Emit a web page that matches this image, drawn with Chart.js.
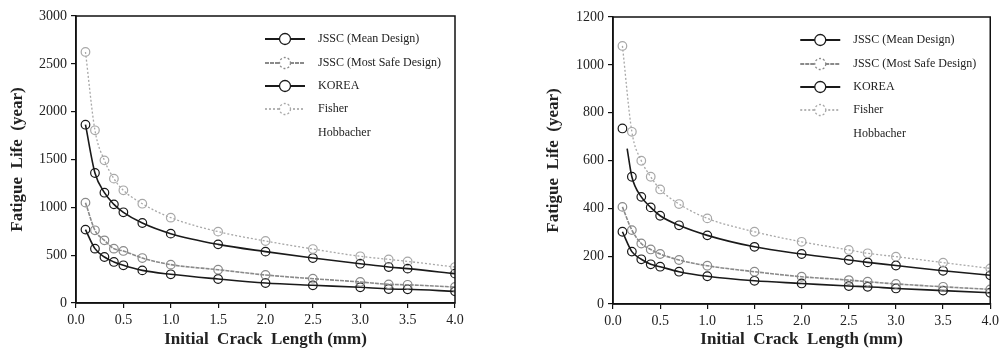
<!DOCTYPE html>
<html>
<head>
<meta charset="utf-8">
<script src="https://cdn.jsdelivr.net/npm/chart.js@4/dist/chart.umd.min.js"></script>
<style>
  html, body { margin: 0; padding: 0; background: #fff; }
  #wrapLeft { position: absolute; left: 0; top: 0; width: 500px; height: 350px; }
  #wrapRight { position: absolute; left: 500px; top: 0; width: 503px; height: 350px; }
</style>
</head>
<body>
<div id="wrapLeft"><canvas id="chartLeft" width="500" height="350"></canvas></div>
<div id="wrapRight"><canvas id="chartRight" width="503" height="350"></canvas></div>
<script>
// legend names
const seriesNames = ['JSSC (Mean Design)', 'JSSC (Most Safe Design)', 'KOREA', 'Fisher', 'Hobbacher'];
const xTicks = [0.0, 0.5, 1.0, 1.5, 2.0, 2.5, 3.0, 3.5, 4.0];

// left chart (0 - 3000 years)
const crackLeft = [0.1, 0.2, 0.3, 0.4, 0.5, 0.7, 1.0, 1.5, 2.0, 2.5, 3.0, 3.3, 3.5, 4.0];
const jsscMeanLeft = [1864, 1359, 1153, 1031, 948, 836, 725, 613, 537, 470, 411, 376, 359, 307];
const jsscSafeLeft = [1049, 760, 655, 568, 544, 470, 401, 348, 293, 254, 220, 195, 190, 167];
const koreaLeft = [767, 568, 481, 429, 394, 341, 300, 251, 209, 185, 164, 146, 143, 122];
const fisherLeft = [2624, 1805, 1491, 1300, 1178, 1038, 892, 746, 648, 564, 488, 456, 435, 376];
const yTicksLeft = [0, 500, 1000, 1500, 2000, 2500, 3000];

// right chart (0 - 1200 years)
const crackRight = [0.1, 0.2, 0.3, 0.4, 0.5, 0.7, 1.0, 1.5, 2.0, 2.5, 2.7, 3.0, 3.5, 4.0];
const jsscMeanCrackRight = [0.15, 0.2, 0.3, 0.4, 0.5, 0.7, 1.0, 1.5, 2.0, 2.5, 2.7, 3.0, 3.5, 4.0];
const jsscMeanRight = [650, 532, 448, 404, 369, 329, 287, 239, 209, 184, 174, 161, 139, 120];
const jsscSafeRight = [406, 309, 253, 228, 209, 184, 160, 135, 114, 100, 93, 84, 72, 61];
const koreaRight = [302, 219, 187, 166, 156, 135, 116, 97, 86, 75, 72, 65, 56, 47];
const fisherRight = [1079, 720, 599, 532, 479, 418, 358, 302, 260, 226, 212, 198, 173, 149];
const hobbacherCrackRight = [0.1];
const hobbacherRight = [734];
const yTicksRight = [0, 200, 400, 600, 800, 1000, 1200];

const FONT = '"Liberation Serif", "DejaVu Serif", serif';
const styles = [
  { color: '#1a1a1a', width: 1.6, dash: [], ptDash: [] },
  { color: '#8a8a8a', width: 1.6, dash: [4, 1], ptDash: [2, 2] },
  { color: '#1a1a1a', width: 1.6, dash: [], ptDash: [] },
  { color: '#a8a8a8', width: 1.3, dash: [2, 2], ptDash: [2, 2] },
  { color: '#1a1a1a', width: 0, dash: [], ptDash: [] }
];

function pairs(xs, ys) {
  return xs.map((x, i) => ({ x: x, y: ys[i] }));
}

function makeDataset(idx, data, radii) {
  const s = styles[idx];
  return {
    label: seriesNames[idx],
    data: data,
    borderColor: s.color,
    borderWidth: s.width,
    borderDash: s.dash,
    showLine: s.width > 0,
    pointRadius: radii || 4.3,
    pointBorderColor: s.color,
    pointBackgroundColor: 'rgba(255,255,255,0)',
    pointBorderWidth: 1.2,
    cubicInterpolationMode: 'monotone',
    fill: false
  };
}

// frame around plot + legend inside the plot area
const framePlugin = {
  id: 'frameLegend',
  afterDraw(chart) {
    const ctx = chart.ctx;
    const a = chart.chartArea;
    ctx.save();
    ctx.strokeStyle = '#111';
    ctx.lineWidth = 1.5;
    ctx.strokeRect(a.left, a.top, a.right - a.left, a.bottom - a.top);

    const rows = [23, 47, 70, 93, 117];
    ctx.font = '12px ' + FONT;
    ctx.textBaseline = 'middle';
    rows.forEach((dy, i) => {
      const y = a.top + dy;
      const s = styles[i];
      if (i < 4) {
        ctx.strokeStyle = s.color;
        ctx.lineWidth = s.width + 0.4;
        ctx.setLineDash(s.dash);
        ctx.beginPath();
        ctx.moveTo(a.right - 190, y);
        ctx.lineTo(a.right - 150, y);
        ctx.stroke();
        ctx.setLineDash(s.ptDash);
        ctx.lineWidth = 1.3;
        ctx.fillStyle = '#fff';
        ctx.beginPath();
        ctx.arc(a.right - 170, y, 5.5, 0, Math.PI * 2);
        ctx.fill();
        ctx.stroke();
        ctx.setLineDash([]);
      }
      ctx.fillStyle = '#222';
      ctx.fillText(seriesNames[i], a.right - 137, y);
    });
    ctx.restore();
  }
};

function makeOptions(yMax, yTicks, yWidth, xHeight, padding) {
  return {
    responsive: false,
    animation: false,
    layout: { padding: padding },
    plugins: { legend: { display: false }, tooltip: { enabled: false } },
    scales: {
      x: {
        type: 'linear',
        min: 0, max: 4,
        afterFit: function (scale) { scale.height = xHeight; },
        afterBuildTicks: function (scale) { scale.ticks = xTicks.map(v => ({ value: v })); },
        ticks: {
          color: '#222', padding: 4,
          font: { family: FONT, size: 14 },
          callback: v => Number(v).toFixed(1)
        },
        grid: { display: true, drawOnChartArea: false, drawTicks: true, tickLength: 5, color: '#111', lineWidth: 1.2 },
        border: { display: true, color: '#111', width: 1.5 },
        title: {
          display: true, text: 'Initial  Crack  Length (mm)', color: '#222',
          font: { family: FONT, size: 17, weight: 'bold' }, padding: { top: 0, bottom: 0 }
        }
      },
      y: {
        min: 0, max: yMax,
        afterFit: function (scale) { scale.width = yWidth; },
        afterBuildTicks: function (scale) { scale.ticks = yTicks.map(v => ({ value: v })); },
        ticks: { color: '#222', padding: 4, font: { family: FONT, size: 14 }, callback: v => String(v) },
        grid: { display: true, drawOnChartArea: false, drawTicks: true, tickLength: 5, color: '#111', lineWidth: 1.2 },
        border: { display: true, color: '#111', width: 1.5 },
        title: {
          display: true, text: 'Fatigue  Life  (year)', color: '#222',
          font: { family: FONT, size: 17, weight: 'bold' }, padding: 3
        }
      }
    }
  };
}

new Chart(document.getElementById('chartLeft').getContext('2d'), {
  type: 'scatter',
  data: {
    datasets: [
      makeDataset(3, pairs(crackLeft, fisherLeft)),
      makeDataset(1, pairs(crackLeft, jsscSafeLeft)),
      makeDataset(0, pairs(crackLeft, jsscMeanLeft)),
      makeDataset(2, pairs(crackLeft, koreaLeft))
    ]
  },
  options: makeOptions(3000, yTicksLeft, 72, 47, { left: 4, right: 45, top: 16, bottom: 0 }),
  plugins: [framePlugin]
});

new Chart(document.getElementById('chartRight').getContext('2d'), {
  type: 'scatter',
  data: {
    datasets: [
      makeDataset(3, pairs(crackRight, fisherRight)),
      makeDataset(1, pairs(crackRight, jsscSafeRight)),
      makeDataset(0, pairs(jsscMeanCrackRight, jsscMeanRight), jsscMeanRight.map((v, i) => i === 0 ? 0 : 4.3)),
      makeDataset(2, pairs(crackRight, koreaRight)),
      makeDataset(4, pairs(hobbacherCrackRight, hobbacherRight))
    ]
  },
  options: makeOptions(1200, yTicksRight, 73, 46, { left: 40, right: 12, top: 17, bottom: 0 }),
  plugins: [framePlugin]
});
</script>
</body>
</html>
